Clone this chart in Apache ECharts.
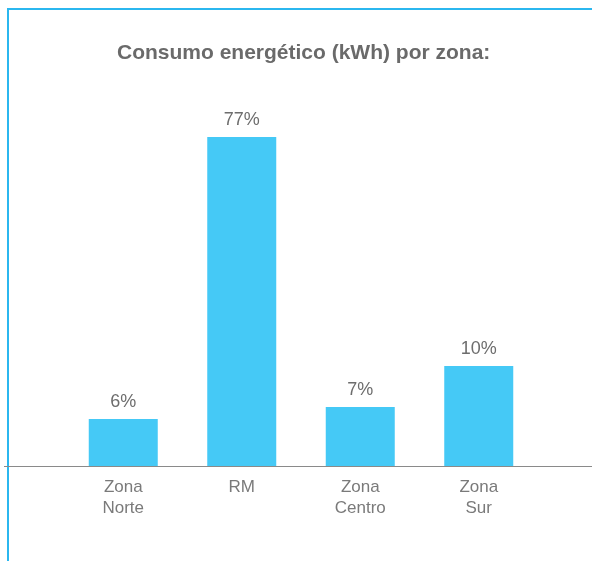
<!DOCTYPE html>
<html>
<head>
<meta charset="utf-8">
<script src="https://cdn.jsdelivr.net/npm/echarts@6/dist/echarts.min.js"></script>
<style>
  html, body { margin: 0; padding: 0; background: #fff; }
  #chart { width: 592px; height: 561px; }
</style>
</head>
<body>
<div id="chart"></div>
<script>
// datos del gráfico
const zonas = ['Zona\nNorte', 'RM', 'Zona\nCentro', 'Zona\nSur'];
const consumo = [47, 329, 59, 100];
const porcentajes = ['6%', '77%', '7%', '10%'];

const chart = echarts.init(document.getElementById('chart'));

const option = {
  animation: false,
  title: {
    text: 'Consumo energético (kWh) por zona:',
    left: 112,
    top: 38,
    textStyle: {
      fontFamily: 'Liberation Sans',
      fontSize: 21,
      fontWeight: 'bold',
      color: '#6a6a6a'
    }
  },
  graphic: [
    {
      type: 'rect',
      shape: { x: 8, y: 9, width: 700, height: 700 },
      style: { fill: 'none', stroke: '#2bb7ef', lineWidth: 2 },
      z: 1
    },
    {
      type: 'line',
      shape: { x1: 4, y1: 466.5, x2: 592, y2: 466.5 },
      style: { stroke: '#8a8a8a', lineWidth: 1.2 },
      z: 10
    }
  ],
  grid: { left: 64, right: 54, top: 66, bottom: 95 },
  xAxis: {
    type: 'category',
    data: zonas,
    axisLine: { show: false },
    axisTick: { show: false },
    axisLabel: {
      margin: 11,
      fontFamily: 'Liberation Sans',
      fontSize: 17,
      lineHeight: 21,
      color: '#7a7a7a'
    }
  },
  yAxis: {
    type: 'value',
    min: 0,
    max: 400,
    show: false,
    splitLine: { show: false }
  },
  series: [
    {
      type: 'bar',
      data: consumo,
      barWidth: 69,
      itemStyle: { color: '#45c9f6' },
      label: {
        show: true,
        position: 'top',
        distance: 8,
        formatter: p => porcentajes[p.dataIndex],
        fontFamily: 'Liberation Sans',
        fontSize: 18,
        color: '#6d6d6d'
      }
    }
  ]
};

chart.setOption(option);
</script>
</body>
</html>
